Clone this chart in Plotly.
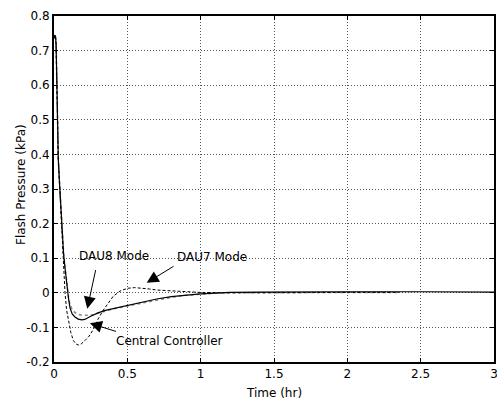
import plotly.graph_objects as go

# Central Controller (solid)
t_cc = [0.0, 0.004, 0.010, 0.014, 0.018, 0.0225, 0.029, 0.036, 0.045, 0.055, 0.065, 0.075,
        0.09, 0.10, 0.11, 0.125, 0.143, 0.165, 0.19, 0.21, 0.25, 0.30, 0.35, 0.40, 0.50,
        0.60, 0.70, 0.80, 0.90, 1.00, 1.10, 1.20, 1.40, 1.70, 2.00, 2.50, 3.00]
p_cc = [0.735, 0.745, 0.742, 0.72, 0.64, 0.50, 0.39, 0.33, 0.26, 0.17, 0.115, 0.072,
        0.01, -0.02, -0.045, -0.062, -0.070, -0.076, -0.078, -0.077, -0.068, -0.058, -0.051, -0.046, -0.037,
        -0.027, -0.018, -0.011, -0.006, -0.003, -0.001, 0.001, 0.002, 0.003, 0.003, 0.003, 0.002]

# DAU8 Mode (dotted)
t_d8 = [0.0, 0.004, 0.010, 0.014, 0.018, 0.0225, 0.029, 0.036, 0.045, 0.055, 0.065, 0.075,
        0.09, 0.10, 0.11, 0.125, 0.143, 0.165, 0.19, 0.22, 0.25, 0.30, 0.35, 0.40, 0.50,
        0.60, 0.70, 0.80, 0.90, 1.00, 1.10, 1.20, 1.50, 2.00, 2.35]
p_d8 = [0.735, 0.745, 0.742, 0.72, 0.64, 0.50, 0.39, 0.33, 0.26, 0.17, 0.115, 0.075,
        0.015, -0.015, -0.035, -0.050, -0.057, -0.062, -0.065, -0.066, -0.065, -0.059, -0.053, -0.047, -0.038,
        -0.029, -0.020, -0.013, -0.007, -0.003, -0.001, 0.0, 0.001, 0.001, 0.001]

# DAU7 Mode (dashed)
t_d7 = [0.0, 0.004, 0.010, 0.014, 0.018, 0.0225, 0.029, 0.036, 0.045, 0.055, 0.065, 0.075,
        0.086, 0.10, 0.115, 0.132, 0.15, 0.166, 0.185, 0.211, 0.24, 0.268, 0.302, 0.336, 0.37,
        0.404, 0.45, 0.50, 0.55, 0.60, 0.65, 0.70, 0.80, 0.90, 1.00, 1.20, 1.50, 2.00, 2.35]
p_d7 = [0.735, 0.745, 0.742, 0.72, 0.64, 0.50, 0.39, 0.33, 0.25, 0.16, 0.08, 0.0,
        -0.05, -0.085, -0.115, -0.138, -0.148, -0.151, -0.148, -0.138, -0.125, -0.106, -0.075, -0.050, -0.028,
        -0.010, 0.005, 0.013, 0.015, 0.014, 0.011, 0.008, 0.005, 0.003, 0.001, 0.0, 0.001, 0.001, 0.001]

x_ticks = [0, 0.5, 1, 1.5, 2, 2.5, 3]
x_tick_text = ["0", "0.5", "1", "1.5", "2", "2.5", "3"]
y_ticks = [-0.2, -0.1, 0, 0.1, 0.2, 0.3, 0.4, 0.5, 0.6, 0.7, 0.8]
y_tick_text = ["-0.2", "-0.1", "0", "0.1", "0.2", "0.3", "0.4", "0.5", "0.6", "0.7", "0.8"]

labels = ["DAU8 Mode", "DAU7 Mode", "Central Controller"]
label_pos = [(0.41, 0.107), (1.077, 0.104), (0.79, -0.138)]
arrow_tip = [(0.227, -0.046), (0.632, 0.029), (0.245, -0.088)]
arrow_tail = [(0.286, 0.07), (0.825, 0.079), (0.433, -0.113)]

font_family = "DejaVu Sans"

fig = go.Figure()
fig.add_trace(go.Scatter(x=t_d8, y=p_d8, mode="lines",
                         line=dict(color="#8a8a8a", width=1.6, dash="dot"), name="DAU8 Mode"))
fig.add_trace(go.Scatter(x=t_d7, y=p_d7, mode="lines",
                         line=dict(color="black", width=1, dash="3px,2px"), name="DAU7 Mode"))
fig.add_trace(go.Scatter(x=t_cc, y=p_cc, mode="lines",
                         line=dict(color="black", width=1.2), name="Central Controller"))

for lab, (lx, ly) in zip(labels, label_pos):
    fig.add_annotation(x=lx, y=ly, text=lab, showarrow=False,
                       font=dict(family=font_family, size=12, color="black"))
for (tx, ty), (ax, ay) in zip(arrow_tip, arrow_tail):
    fig.add_annotation(x=tx, y=ty, ax=ax, ay=ay, axref="x", ayref="y", text="",
                       showarrow=True, arrowhead=2, arrowsize=2.4, arrowwidth=1,
                       arrowcolor="black", standoff=0, startstandoff=0)

# axis titles
fig.add_annotation(x=0.5, y=0, xref="paper", yref="paper", text="Time (hr)", showarrow=False,
                   xanchor="center", yanchor="middle", yshift=-31,
                   font=dict(family=font_family, size=12, color="black"))
fig.add_annotation(x=0, y=0.5, xref="paper", yref="paper", text="Flash Pressure (kPa)", showarrow=False,
                   textangle=-90, xanchor="center", yanchor="middle", xshift=-33, yshift=4,
                   font=dict(family=font_family, size=12, color="black"))

axis_common = dict(showline=True, linecolor="black", linewidth=2, mirror="ticks",
                   ticks="inside", ticklen=4, tickcolor="black", tickwidth=1,
                   showgrid=True, gridcolor="#555", griddash="1px,2px", gridwidth=1,
                   zeroline=False, automargin=False, ticklabeloverflow="allow",
                   tickfont=dict(family=font_family, size=12, color="black"))

fig.update_xaxes(range=[0, 3], tickvals=x_ticks, ticktext=x_tick_text, **axis_common)
fig.update_yaxes(range=[-0.2, 0.8], tickvals=y_ticks, ticktext=y_tick_text, **axis_common)

fig.update_layout(width=497, height=400, margin=dict(l=54, r=3, t=16, b=38),
                  paper_bgcolor="white", plot_bgcolor="white", showlegend=False,
                  font=dict(family=font_family, size=12, color="black"))

fig.write_html("out.html")
